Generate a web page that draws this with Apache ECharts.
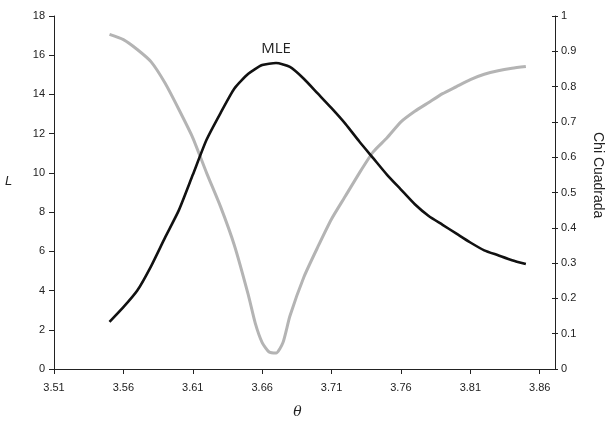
<!DOCTYPE html>
<html>
<head>
<meta charset="utf-8">
<script src="https://cdn.jsdelivr.net/npm/echarts@6/dist/echarts.min.js"></script>
<style>
  html, body { margin: 0; padding: 0; background: #fff; }
  #chart { width: 608px; height: 421px; }
</style>
</head>
<body>
<div id="chart"></div>
<script>
// theta values
var thetaL = [3.55, 3.56, 3.57, 3.58, 3.59, 3.60, 3.61, 3.62, 3.63, 3.64,
              3.65, 3.66, 3.67, 3.68, 3.69, 3.70, 3.71, 3.72, 3.73, 3.74,
              3.75, 3.76, 3.77, 3.78, 3.79, 3.80, 3.81, 3.82, 3.83, 3.84, 3.85];
var valuesL = [2.4, 3.15, 4.0, 5.25, 6.7, 8.1, 9.9, 11.7, 13.05, 14.3,
               15.05, 15.5, 15.6, 15.4, 14.8, 14.05, 13.3, 12.5, 11.6, 10.75,
               9.9, 9.15, 8.4, 7.8, 7.35, 6.9, 6.45, 6.05, 5.8, 5.55, 5.35];

var thetaChi = [3.55, 3.56, 3.57, 3.58, 3.59, 3.60, 3.61, 3.62, 3.63, 3.64,
                3.65, 3.655, 3.66, 3.665, 3.67, 3.675, 3.68, 3.69, 3.70, 3.71,
                3.72, 3.73, 3.74, 3.75, 3.76, 3.77, 3.78, 3.79, 3.80, 3.81,
                3.82, 3.83, 3.84, 3.85];
var valuesChi = [0.948, 0.933, 0.905, 0.87, 0.81, 0.735, 0.655, 0.555, 0.46, 0.35,
                 0.21, 0.13, 0.075, 0.048, 0.045, 0.075, 0.15, 0.26, 0.345, 0.425,
                 0.49, 0.555, 0.615, 0.655, 0.70, 0.73, 0.755, 0.78, 0.80, 0.82,
                 0.835, 0.845, 0.852, 0.857];

// x axis starts at 3.51 with ticks every 0.05, so plot against theta - X0
var X0 = 3.51;
var X_SPAN = 0.361;

var chart = echarts.init(document.getElementById('chart'));

var labelStyle = { color: '#222', fontSize: 11, fontFamily: 'Liberation Sans' };
var axisLine = { show: true, lineStyle: { color: '#222', width: 1 } };
var axisTick = { show: true, length: 5, lineStyle: { color: '#222' } };

function shift(xs, ys) {
    return xs.map(function (t, i) { return [t - X0, ys[i]]; });
}

var option = {
    animation: false,
    grid: { left: 54, right: 53, top: 16, bottom: 52, outerBoundsMode: 'none', containLabel: false },
    // axis titles for L and Chi Cuadrada (sit a little above the middle)
    graphic: [{
        type: 'text',
        left: 5,
        top: 175,
        style: { text: 'L', fontSize: 13, fontStyle: 'italic', fill: '#222', fontFamily: 'Liberation Sans' }
    }, {
        type: 'text',
        x: 605,
        y: 132,
        rotation: -Math.PI / 2,
        style: { text: 'Chi Cuadrada', fontSize: 14, fill: '#222', fontFamily: 'Liberation Sans' }
    }],
    xAxis: {
        type: 'value',
        min: 0,
        max: X_SPAN,
        interval: 0.05,
        name: 'θ',
        nameLocation: 'middle',
        nameGap: 36,
        nameTextStyle: { fontSize: 14, fontStyle: 'italic', color: '#222', fontFamily: 'DejaVu Serif', padding: [0, 14, 0, 0] },
        axisLine: axisLine,
        axisTick: axisTick,
        splitLine: { show: false },
        axisLabel: Object.assign({
            margin: 13,
            showMaxLabel: false,
            formatter: function (v) {
                var k = Math.round(v / 0.05);
                if (Math.abs(v - k * 0.05) > 1e-6) return '';
                return (X0 + k * 0.05).toFixed(2);
            }
        }, labelStyle)
    },
    yAxis: [{
        type: 'value',
        min: 0,
        max: 18,
        interval: 2,
        axisLine: axisLine,
        axisTick: axisTick,
        splitLine: { show: false },
        axisLabel: Object.assign({ margin: 9 }, labelStyle)
    }, {
        type: 'value',
        min: 0,
        max: 1,
        interval: 0.1,
        position: 'right',
        axisLine: axisLine,
        axisTick: { show: true, length: 3, lineStyle: { color: '#222' } },
        splitLine: { show: false },
        axisLabel: Object.assign({ margin: 6 }, labelStyle)
    }, {
        // inner half of the crossing ticks on the right axis
        type: 'value',
        min: 0,
        max: 1,
        interval: 0.1,
        position: 'right',
        axisLine: { show: false },
        axisTick: { show: true, inside: true, length: 3, lineStyle: { color: '#222' } },
        axisLabel: { show: false },
        splitLine: { show: false }
    }],
    series: [{
        name: 'L',
        type: 'line',
        yAxisIndex: 0,
        data: shift(thetaL, valuesL),
        showSymbol: false,
        smooth: 0.2,
        lineStyle: { color: '#111', width: 2.6 },
        itemStyle: { color: '#111' },
        z: 3,
        markPoint: {
            symbol: 'circle',
            symbolSize: 0,
            data: [{ type: 'max', name: 'MLE' }],
            label: {
                show: true,
                position: 'top',
                distance: 7,
                formatter: 'MLE',
                color: '#222',
                fontSize: 15,
                fontFamily: 'Open Sans'
            }
        }
    }, {
        name: 'Chi Cuadrada',
        type: 'line',
        yAxisIndex: 1,
        data: shift(thetaChi, valuesChi),
        showSymbol: false,
        smooth: 0.2,
        lineStyle: { color: '#b4b4b4', width: 3 },
        itemStyle: { color: '#b4b4b4' },
        z: 2
    }]
};

chart.setOption(option);
</script>
</body>
</html>
